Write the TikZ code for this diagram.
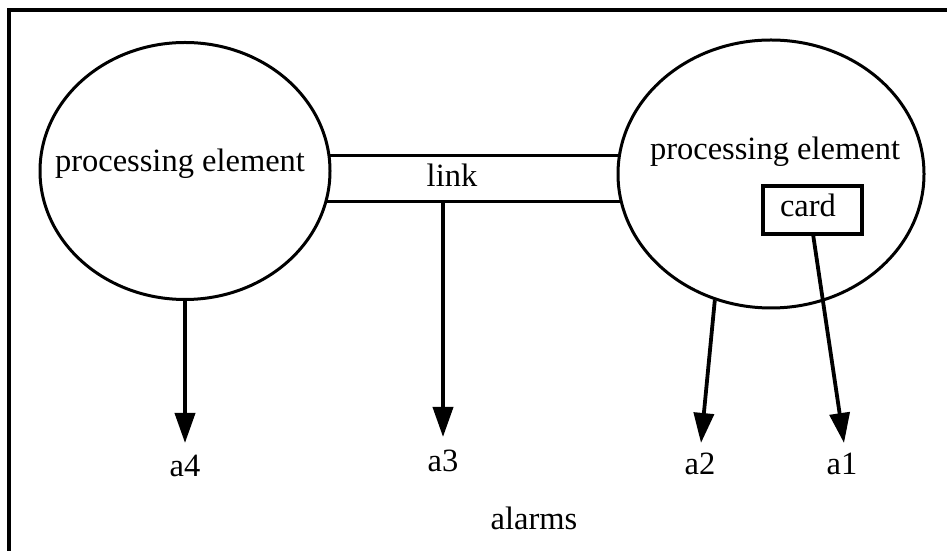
\documentclass[tikz,border=0pt]{standalone}
\usepackage{fontspec}
\setmainfont{Liberation Serif}
\usetikzlibrary{arrows.meta,shapes.geometric}
\begin{document}
\begin{tikzpicture}[x=1pt,y=1pt,
  pe/.style={draw, ellipse, line width=3pt, inner sep=0pt},
  cardbox/.style={draw, rectangle, line width=3.4pt, inner sep=0pt,
    minimum width=99pt, minimum height=48pt},
  lbl/.style={font=\fontsize{32.5}{38}\selectfont, inner sep=0pt, anchor=base},
  linkline/.style={line width=3.2pt},
  alarm/.style={line width=3.8pt, -{Triangle[length=30pt,width=20pt]}},
  frame/.style={line width=3.4pt}]
  \clip (0,0) rectangle (947,551);
  % outer frame (only its left and top edges fall inside the page)
  \draw[frame] (9,-20) rectangle (980,541);

  % the two processing elements
  \node[pe, minimum width=290pt, minimum height=257pt] (L) at (185,380) {};
  \node[pe, minimum width=306pt, minimum height=268pt] (R) at (771,377) {};
  \node[lbl] (Ltxt) at (180,379) {processing element};
  \node[lbl] (Rtxt) at (775,391) {processing element};

  % card inside the right element
  \node[cardbox] (card) at (812.5,341) {};
  \node[lbl] (cardtxt) at (808,334) {card};

  % the link between the elements
  \draw[linkline] (L.6.7) -- (L.6.7 -| R.172.5);
  \draw[linkline] (L.-12.4) -- (L.-12.4 -| R.190.6);
  \node[lbl] (linktxt) at (452,364) {link};

  % alarm outputs
  \coordinate (t4) at (185,108);
  \coordinate (s3) at (443,349);
  \coordinate (t3) at (443,114);
  \coordinate (t2) at (701,108);
  \coordinate (s1) at (813,317);
  \coordinate (t1) at (844,108);

  \draw[alarm] (L.south) -- (t4);
  \draw[alarm] (s3) -- (t3);
  \draw[alarm] (R.246.25) -- (t2);
  \draw[alarm] (s1) -- (t1);

  \node[lbl] (a4) at (185,74) {a4};
  \node[lbl] (a3) at (443,79) {a3};
  \node[lbl] (a2) at (700,76) {a2};
  \node[lbl] (a1) at (842,76) {a1};
  \node[lbl] (alarms) at (534,21) {alarms};
\end{tikzpicture}
\end{document}
